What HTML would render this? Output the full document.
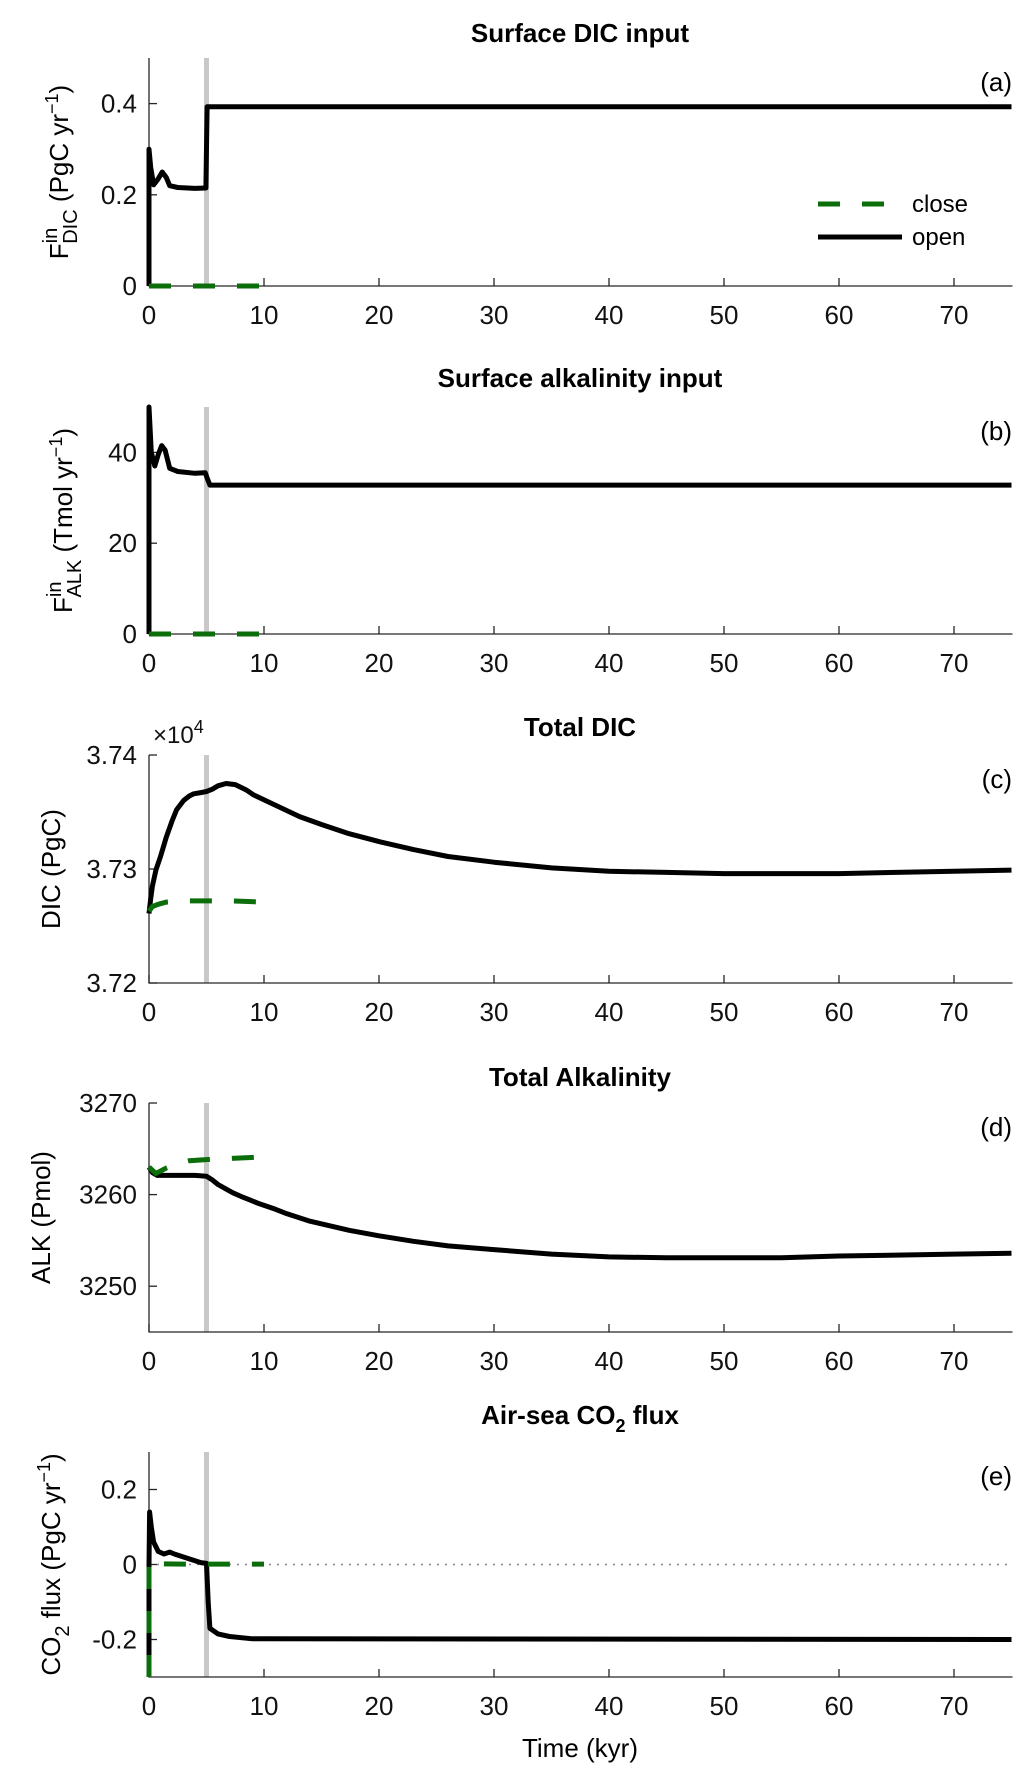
<!DOCTYPE html>
<html><head><meta charset="utf-8"><style>
html,body{margin:0;padding:0;background:#fff;}
svg{display:block;font-family:"Liberation Sans","DejaVu Sans",sans-serif;}
</style></head><body>
<svg id="fig" width="1033" height="1782" viewBox="0 0 1033 1782" xmlns="http://www.w3.org/2000/svg"></svg>
<script>
// ---- data ----
const xTicks = [0,10,20,30,40,50,60,70];
const aTicks = [0,0.2,0.4];
const aTickLabels = ["0","0.2","0.4"];
const bTicks = [0,20,40];
const bTickLabels = ["0","20","40"];
const cTicks = [3.72,3.73,3.74];
const cTickLabels = ["3.72","3.73","3.74"];
const dTicks = [3250,3260,3270];
const dTickLabels = ["3250","3260","3270"];
const eTicks = [-0.2,0,0.2];
const eTickLabels = ["-0.2","0","0.2"];

const aOpenX = [0,0,0.15,0.4,0.8,1.15,1.5,1.8,2.5,4,4.95,5.05,75];
const aOpenY = [0,0.30,0.26,0.222,0.235,0.25,0.238,0.22,0.216,0.214,0.215,0.393,0.393];
const aCloseX = [0,10];
const aCloseY = [0,0];

const bOpenX = [0,0,0.2,0.5,0.8,1.1,1.4,1.8,2.5,4,4.9,5.1,5.3,75];
const bOpenY = [0,50,40,37,39.5,41.5,40.5,36.5,35.8,35.4,35.5,34,32.8,32.8];
const bCloseX = [0,10];
const bCloseY = [0,0];

const cOpenX = [0,0.15,0.3,0.6,1,1.5,2,2.4,3,3.5,3.9,4.5,5,5.5,6,6.7,7.5,8.5,9.1,11,13.1,15,17.4,20,23,26,30,35,40,45,50,55,60,65,70,75];
const cOpenY = [3.7261,3.7274,3.7285,3.7299,3.7311,3.7328,3.7342,3.7352,3.7360,3.7364,3.7366,3.7367,3.7368,3.7370,3.7373,3.7375,3.7374,3.7369,3.7365,3.7356,3.7346,3.7339,3.7331,3.7324,3.7317,3.7311,3.7306,3.7301,3.7298,3.7297,3.7296,3.7296,3.7296,3.7297,3.7298,3.7299];
const cCloseX = [0,0.3,0.8,1.5,3,5,7,10];
const cCloseY = [3.7263,3.7267,3.7269,3.7271,3.7272,3.7272,3.7272,3.7271];

const dOpenX = [0,0.3,0.7,2,4,5,5.5,6,6.7,7.3,8,8.8,9.6,11,12,14,17.4,20,23,26,30,35,40,45,50,55,60,65,70,75];
const dOpenY = [3263,3262.4,3262.1,3262.1,3262.1,3262,3261.6,3261.1,3260.6,3260.2,3259.8,3259.4,3259.0,3258.4,3257.9,3257.1,3256.1,3255.5,3254.9,3254.4,3254.0,3253.5,3253.2,3253.1,3253.1,3253.1,3253.3,3253.4,3253.5,3253.6];
const dCloseX = [0,0.6,1.5,2.5,3.5,6,10];
const dCloseY = [3263,3262.3,3262.9,3263.4,3263.7,3263.9,3264.1];

const eOpenX = [0,0,0.05,0.2,0.4,0.8,1.3,1.8,2.2,3,4.5,5,5.15,5.3,6,7,9,75];
const eOpenY = [-0.3,0,0.14,0.1,0.06,0.035,0.028,0.033,0.028,0.02,0.005,0.003,-0.1,-0.17,-0.185,-0.192,-0.198,-0.2];
const eCloseX = [0,0,0.3,1,3,5,10];
const eCloseY = [-0.3,0.01,0.003,0.002,0.001,0.001,0.001];

const switchTime = 5;

// ---- drawing ----
const NS = "http://www.w3.org/2000/svg";
const svg = document.getElementById('fig');
const X0 = 149, XPX = 11.5, XMAX = 75;
const xs = v => X0 + v*XPX;
function mk(tag, attrs, parent){
  const e = document.createElementNS(NS, tag);
  for (const k in attrs) e.setAttribute(k, attrs[k]);
  (parent||svg).appendChild(e);
  return e;
}
function panel(cfg){
  const g = mk('g', {});
  
  
  const ys = v => cfg.bottom - (v - cfg.ymin)/(cfg.ymax - cfg.ymin)*(cfg.bottom - cfg.top);
  const t = mk('text', {x:580, y:cfg.titleY, 'text-anchor':'middle', 'font-size':26, 'font-weight':'bold', fill:'#000'}, g);
  t.innerHTML = cfg.title;
  
  
  if (cfg.zeroLine){
    const z = mk('line', {x1:xs(0), x2:xs(XMAX), y1:ys(0), y2:ys(0), stroke:'#888', 'stroke-width':1.5, 'stroke-dasharray':'2 6'}, g);
    
    
  }
  const s = mk('line', {x1:xs(switchTime), x2:xs(switchTime), y1:cfg.top, y2:cfg.bottom, stroke:'#c8c8c8', 'stroke-width':5}, g);
  
  
  const ax = mk('path', {d:`M${X0} ${cfg.top} V${cfg.bottom} H${xs(XMAX)+1}`, fill:'none', stroke:'#262626', 'stroke-width':1.3}, g);
  
  
  xTicks.forEach(v => {
    mk('line', {x1:xs(v), x2:xs(v), y1:cfg.bottom, y2:cfg.bottom-8, stroke:'#262626', 'stroke-width':1.3}, g);
    const l = mk('text', {x:xs(v), y:cfg.bottom+38, 'text-anchor':'middle', 'font-size':26, fill:'#111'}, g);
    l.textContent = v;
    
    
  });
  cfg.ticks.forEach((v,i) => {
    mk('line', {x1:X0, x2:X0+8, y1:ys(v), y2:ys(v), stroke:'#262626', 'stroke-width':1.3}, g);
    const l = mk('text', {x:137, y:ys(v)+9, 'text-anchor':'end', 'font-size':26, fill:'#111'}, g);
    l.textContent = cfg.tickLabels[i];
    
    
  });
  const pts = (X,Y) => X.map((x,i)=>`${xs(x).toFixed(1)},${ys(Y[i]).toFixed(1)}`).join(' ');
  const o = mk('polyline', {points:pts(cfg.openX, cfg.openY), fill:'none', stroke:'#000', 'stroke-width':5, 'stroke-linejoin':'round'}, g);
  
  
  const c = mk('polyline', {points:pts(cfg.closeX, cfg.closeY), fill:'none', stroke:'#0b6e0b', 'stroke-width':5, 'stroke-dasharray':'22 22'}, g);
  
  
  const p = mk('text', {x:1012, y:cfg.top+33, 'text-anchor':'end', 'font-size':26, fill:'#000'}, g);
  p.textContent = cfg.letter;
  
  
  const yl = mk('text', {transform:`translate(${cfg.ylabX},${(cfg.top+cfg.bottom)/2}) rotate(-90)`, 'text-anchor':'middle', 'font-size':26, fill:'#000'}, g);
  yl.innerHTML = cfg.ylabel;
  
  
  return {g, ys};
}

panel({name:'panel-a-surface-dic-input', title:'Surface DIC input', titleY:42, top:58, bottom:286, ymin:0, ymax:0.5,
  ticks:aTicks, tickLabels:aTickLabels, openX:aOpenX, openY:aOpenY, closeX:aCloseX, closeY:aCloseY, letter:'(a)', ylabX:68,
  ylabel:'F<tspan dy="-11" font-size="20">in</tspan><tspan dx="-16" dy="20" font-size="20">DIC</tspan><tspan dy="-9"> (PgC yr</tspan><tspan dy="-10" font-size="18">−1</tspan><tspan dy="10">)</tspan>'});
panel({name:'panel-b-surface-alkalinity-input', title:'Surface alkalinity input', titleY:387, top:407, bottom:634, ymin:0, ymax:50,
  ticks:bTicks, tickLabels:bTickLabels, openX:bOpenX, openY:bOpenY, closeX:bCloseX, closeY:bCloseY, letter:'(b)', ylabX:72,
  ylabel:'F<tspan dy="-11" font-size="20">in</tspan><tspan dx="-16" dy="20" font-size="20">ALK</tspan><tspan dy="-9"> (Tmol yr</tspan><tspan dy="-10" font-size="18">−1</tspan><tspan dy="10">)</tspan>'});
panel({name:'panel-c-total-dic', title:'Total DIC', titleY:736, top:755, bottom:983, ymin:3.72, ymax:3.74,
  ticks:cTicks, tickLabels:cTickLabels, openX:cOpenX, openY:cOpenY, closeX:cCloseX, closeY:cCloseY, letter:'(c)', ylabX:60,
  ylabel:'DIC (PgC)'});
panel({name:'panel-d-total-alkalinity', title:'Total Alkalinity', titleY:1086, top:1103, bottom:1332, ymin:3245, ymax:3270,
  ticks:dTicks, tickLabels:dTickLabels, openX:dOpenX, openY:dOpenY, closeX:dCloseX, closeY:dCloseY, letter:'(d)', ylabX:50,
  ylabel:'ALK (Pmol)'});
panel({name:'panel-e-air-sea-co2-flux', title:'Air-sea CO<tspan dy="8" font-size="18">2</tspan><tspan dy="-8"> flux</tspan>', titleY:1424, top:1452, bottom:1677, ymin:-0.3, ymax:0.3, zeroLine:true,
  ticks:eTicks, tickLabels:eTickLabels, openX:eOpenX, openY:eOpenY, closeX:eCloseX, closeY:eCloseY, letter:'(e)', ylabX:60,
  ylabel:'CO<tspan dy="9" font-size="20">2</tspan><tspan dy="-9"> flux (PgC yr</tspan><tspan dy="-10" font-size="18">−1</tspan><tspan dy="10">)</tspan>'});

const mult = mk('text', {x:153, y:743, 'font-size':24, fill:'#111'});
mult.innerHTML = '×10<tspan dy="-10" font-size="18">4</tspan>';



const xl = mk('text', {x:580, y:1757, 'text-anchor':'middle', 'font-size':26, fill:'#000'});
xl.textContent = 'Time (kyr)';



const lg = mk('g', {});


const l1 = mk('line', {x1:818, x2:902, y1:204, y2:204, stroke:'#0b6e0b', 'stroke-width':5, 'stroke-dasharray':'22 22'}, lg);


const t1 = mk('text', {x:912, y:212, 'font-size':24, fill:'#000'}, lg);
t1.textContent = 'close';


const l2 = mk('line', {x1:818, x2:902, y1:237, y2:237, stroke:'#000', 'stroke-width':5}, lg);


const t2 = mk('text', {x:912, y:245, 'font-size':24, fill:'#000'}, lg);
t2.textContent = 'open';


</script>
</body></html>
